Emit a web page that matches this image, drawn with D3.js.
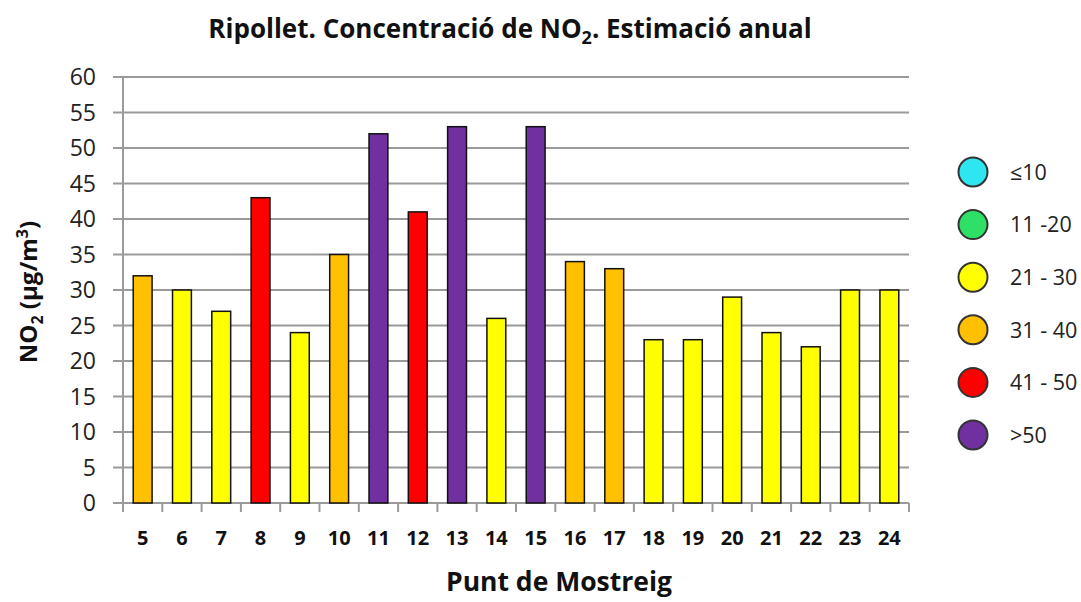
<!DOCTYPE html>
<html><head><meta charset="utf-8">
<script src="https://cdn.jsdelivr.net/npm/d3@7"></script>
<style>body{margin:0;background:#fff;} svg{display:block;}</style>
</head><body>
<svg id="c" width="1081" height="602"></svg>
<script>
const categories = ["5","6","7","8","9","10","11","12","13","14","15","16","17","18","19","20","21","22","23","24"];
const values = [32,30,27,43,24,35,52,41,53,26,53,34,33,23,23,29,24,22,30,30];
const yTicks = [0,5,10,15,20,25,30,35,40,45,50,55,60];
const legendLabels = ["≤10","11 -20","21 - 30","31 - 40","41 - 50",">50"];
const legendColors = ["#2EE6F0","#2EE066","#FFFF00","#FFC000","#FF0000","#7030A0"];
const binEdges = [10.5,20.5,30.5,40.5,50.5];

const svg = d3.select("#c");
const font = "'Open Sans', sans-serif";
const L = 123, R = 909, T = 77, B = 503;
const x = d3.scaleBand().domain(categories).range([L, R]).paddingInner(0.52).paddingOuter(0.26);
const y = d3.scaleLinear().domain([0, 60]).range([B, T]);
const color = d3.scaleThreshold().domain(binEdges).range(legendColors);

// gridlines
const g = svg.append("g");
g.selectAll("line.grid").data(yTicks).join("line")
  .attr("x1", L - 10).attr("x2", R).attr("y1", d => y(d)).attr("y2", d => y(d))
  .attr("stroke", "#9a9a9a").attr("stroke-width", 2);
// y axis line
g.append("line").attr("x1", L).attr("x2", L).attr("y1", T).attr("y2", B + 9)
  .attr("stroke", "#9a9a9a").attr("stroke-width", 2);
// x ticks between categories
const step = x.step();
const tickXs = d3.range(categories.length + 1).map(i => L + i * step);
g.selectAll("line.xt").data(tickXs).join("line")
  .attr("x1", d => d).attr("x2", d => d).attr("y1", B).attr("y2", B + 9)
  .attr("stroke", "#9a9a9a").attr("stroke-width", 2);

// y tick labels
svg.selectAll("text.yt").data(yTicks).join("text")
  .attr("x", 96).attr("y", d => y(d)).attr("dy", "0.36em")
  .attr("text-anchor", "end").attr("font-family", font).attr("font-size", 23)
  .attr("fill", "#222").text(d => d);

// bars
svg.selectAll("rect.bar").data(values).join("rect")
  .attr("x", (d, i) => x(categories[i])).attr("width", x.bandwidth())
  .attr("y", d => y(d)).attr("height", d => B - y(d))
  .attr("fill", d => color(d)).attr("stroke", "#111").attr("stroke-width", 1.5);

// x labels
svg.selectAll("text.xl").data(categories).join("text")
  .attr("x", d => x(d) + x.bandwidth() / 2).attr("y", 545)
  .attr("text-anchor", "middle").attr("font-family", font).attr("font-weight", "bold")
  .attr("font-size", 20).attr("fill", "#111").text(d => d);

// title
const title = svg.append("text").attr("x", 510).attr("y", 38).attr("text-anchor", "middle")
  .attr("font-family", font).attr("font-weight", "bold").attr("font-size", 26).attr("fill", "#111");
title.append("tspan").text("Ripollet. Concentració de NO");
title.append("tspan").attr("font-size", 18).attr("dy", 6).text("2");
title.append("tspan").attr("dy", -6).text(". Estimació anual");

// x axis title
svg.append("text").attr("x", 559).attr("y", 591).attr("text-anchor", "middle")
  .attr("font-family", font).attr("font-weight", "bold").attr("font-size", 26.5).attr("fill", "#111")
  .text("Punt de Mostreig");

// y axis title
const yt = svg.append("text").attr("transform", "translate(37,292) rotate(-90)").attr("text-anchor", "middle")
  .attr("font-family", font).attr("font-weight", "bold").attr("font-size", 24).attr("fill", "#111");
yt.append("tspan").text("NO");
yt.append("tspan").attr("font-size", 16).attr("dy", 6).text("2");
yt.append("tspan").attr("dy", -6).text(" (µg/m");
yt.append("tspan").attr("font-size", 16).attr("dy", -9).text("3");
yt.append("tspan").attr("dy", 9).text(")");

// legend
const lg = svg.append("g");
const ly0 = 172, ldy = 52.6;
lg.selectAll("circle").data(legendColors).join("circle")
  .attr("cx", 973).attr("cy", (d, i) => ly0 + i * ldy).attr("r", 14.5)
  .attr("fill", d => d).attr("stroke", "#333").attr("stroke-width", 2);
lg.selectAll("text").data(legendLabels).join("text")
  .attr("x", 1010).attr("y", (d, i) => ly0 + i * ldy).attr("dy", "0.36em")
  .attr("font-family", font).attr("font-size", 21.5).attr("fill", "#222").text(d => d);
</script>
</body></html>
